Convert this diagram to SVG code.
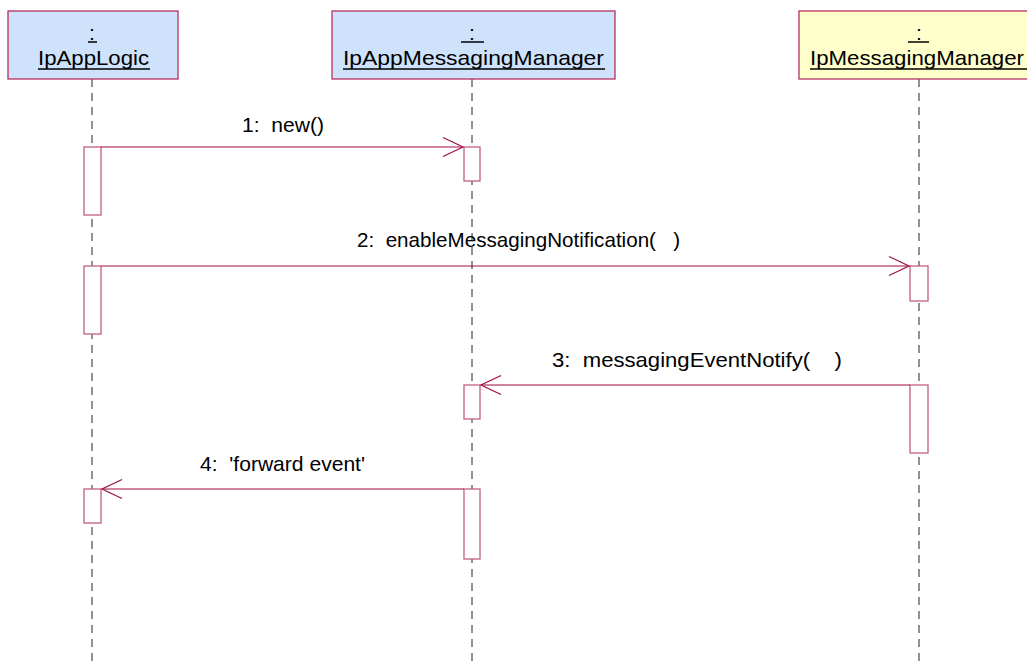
<svg xmlns="http://www.w3.org/2000/svg" width="1027" height="666" viewBox="0 0 1027 666">
<style>
.hdr{stroke:#B8305E;stroke-width:1.3}
.blue{fill:#CFE2FB}
.yel{fill:#FFFFCC}
.t{font-family:"Liberation Sans",Arial,sans-serif;font-size:21px;fill:#000;white-space:pre}
.ul{stroke:#000;stroke-width:1.5}
.life{stroke:#222;stroke-width:1;stroke-dasharray:8,6;fill:none}
.act{fill:#fff;stroke:#C0607F;stroke-width:1.3}
.msg{stroke:#A00C45;stroke-width:1.2;fill:none}
</style>
<rect width="1027" height="666" fill="#fff"/>
<g id="lifelines">
<line class="life" x1="92" y1="79" x2="92" y2="666"/>
<line class="life" x1="472" y1="79" x2="472" y2="666"/>
<line class="life" x1="919" y1="79" x2="919" y2="666"/>
</g>
<g id="node-IpAppLogic">
<rect class="hdr blue" x="8" y="11" width="170" height="68"/>
<text class="t" x="92" y="40" text-anchor="middle">:</text>
<line class="ul" x1="88" y1="42" x2="97" y2="42"/>
<text class="t" x="93.5" y="65" text-anchor="middle" textLength="111" lengthAdjust="spacingAndGlyphs">IpAppLogic</text>
<line class="ul" x1="38" y1="69" x2="150" y2="69"/>
</g>
<g id="node-IpAppMessagingManager">
<rect class="hdr blue" x="332" y="11" width="283" height="68"/>
<text class="t" x="472" y="40" text-anchor="middle">:</text>
<line class="ul" x1="461" y1="42" x2="484" y2="42"/>
<text class="t" x="473.5" y="65" text-anchor="middle" textLength="261" lengthAdjust="spacingAndGlyphs">IpAppMessagingManager</text>
<line class="ul" x1="343" y1="69" x2="605" y2="69"/>
</g>
<g id="node-IpMessagingManager">
<rect class="hdr yel" x="799" y="11" width="240" height="68"/>
<text class="t" x="919" y="40" text-anchor="middle">:</text>
<line class="ul" x1="908" y1="42" x2="929" y2="42"/>
<text class="t" x="810" y="65" textLength="214" lengthAdjust="spacingAndGlyphs">IpMessagingManager</text>
<line class="ul" x1="810" y1="69" x2="1027" y2="69"/>
</g>
<g id="activations">
<rect class="act" x="84" y="147" width="17" height="68"/>
<rect class="act" x="464" y="147" width="16" height="34"/>
<rect class="act" x="84" y="266" width="17" height="68"/>
<rect class="act" x="910" y="266" width="18" height="35"/>
<rect class="act" x="464" y="385" width="16" height="34"/>
<rect class="act" x="910" y="385" width="18" height="68"/>
<rect class="act" x="84" y="489" width="17" height="34"/>
<rect class="act" x="464" y="489" width="16" height="70"/>
</g>
<g id="connectors">
<line class="msg" x1="101" y1="147" x2="463" y2="147"/>
<polyline class="msg" points="443,137.5 463,147 443,156.5"/>
<line class="msg" x1="101" y1="266" x2="909" y2="266"/>
<polyline class="msg" points="889,256.5 909,266 889,275.5"/>
<line class="msg" x1="910" y1="385" x2="481" y2="385"/>
<polyline class="msg" points="501,375.5 481,385 501,394.5"/>
<line class="msg" x1="464" y1="489" x2="102" y2="489"/>
<polyline class="msg" points="122,479.5 102,489 122,498.5"/>
</g>
<g id="labels">
<text class="t" xml:space="preserve" x="242" y="132" textLength="82" lengthAdjust="spacingAndGlyphs">1:  new()</text>
<text class="t" xml:space="preserve" x="357" y="247" textLength="323" lengthAdjust="spacingAndGlyphs">2:  enableMessagingNotification(   )</text>
<text class="t" xml:space="preserve" x="552" y="367" textLength="290" lengthAdjust="spacingAndGlyphs">3:  messagingEventNotify(    )</text>
<text class="t" xml:space="preserve" x="200" y="471" textLength="165" lengthAdjust="spacingAndGlyphs">4:  'forward event'</text>
</g>
</svg>
